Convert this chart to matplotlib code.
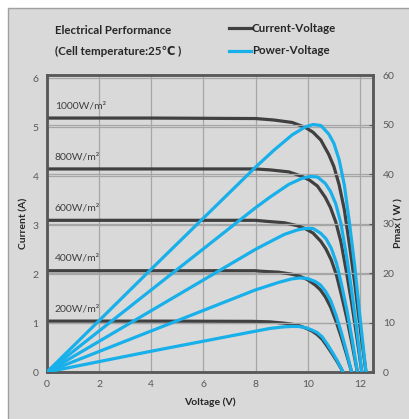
import matplotlib.pyplot as plt
from matplotlib.patches import Rectangle

plt.rcParams['font.family'] = ['Lato', 'DejaVu Sans']

# irradiance levels and their curves
levels = ['1000W/m²', '800W/m²', '600W/m²', '400W/m²', '200W/m²']

v_1000 = [0, 4, 8, 8.7, 9.4, 9.9, 10.2, 10.5, 10.8, 11.0, 11.2, 11.4, 11.6, 11.8, 12.0, 12.23]
i_1000 = [5.19, 5.19, 5.18, 5.15, 5.10, 5.00, 4.90, 4.74, 4.45, 4.20, 3.83, 3.32, 2.59, 1.81, 0.93, 0]
p_1000 = [0, 20.8, 41.4, 44.8, 47.9, 49.5, 50.0, 49.8, 48.1, 46.2, 42.9, 37.8, 30.0, 21.4, 11.2, 0]

v_800 = [0, 4, 8, 8.57, 9.27, 9.77, 10.07, 10.37, 10.67, 10.87, 11.07, 11.27, 11.47, 11.67, 11.87, 12.07]
i_800 = [4.15, 4.15, 4.15, 4.13, 4.09, 4.00, 3.92, 3.80, 3.57, 3.36, 3.07, 2.66, 2.08, 1.45, 0.75, 0]
p_800 = [0, 16.6, 33.2, 35.4, 37.9, 39.1, 39.5, 39.4, 38.1, 36.5, 34.0, 30.0, 23.9, 16.9, 8.9, 0]

v_600 = [0, 4, 8, 8.4, 9.1, 9.6, 9.9, 10.2, 10.5, 10.7, 10.9, 11.1, 11.3, 11.5, 11.7, 11.9]
i_600 = [3.10, 3.10, 3.10, 3.08, 3.05, 2.99, 2.93, 2.84, 2.67, 2.51, 2.29, 1.98, 1.55, 1.09, 0.56, 0]
p_600 = [0, 12.4, 24.8, 25.9, 27.8, 28.7, 29.0, 29.0, 28.0, 26.9, 25.0, 22.0, 17.5, 12.5, 6.6, 0]

v_400 = [0, 4, 8, 8.18, 8.88, 9.38, 9.68, 9.98, 10.28, 10.48, 10.68, 10.88, 11.08, 11.28, 11.48, 11.68]
i_400 = [2.07, 2.07, 2.07, 2.06, 2.04, 2.00, 1.96, 1.89, 1.78, 1.68, 1.53, 1.32, 1.04, 0.72, 0.37, 0]
p_400 = [0, 8.3, 16.6, 16.9, 18.1, 18.8, 19.0, 18.9, 18.3, 17.6, 16.3, 14.4, 11.5, 8.1, 4.2, 0]

v_200 = [0, 4, 7.85, 8.55, 9.05, 9.35, 9.65, 9.95, 10.15, 10.35, 10.55, 10.75, 10.95, 11.15, 11.35]
i_200 = [1.04, 1.04, 1.035, 1.025, 1.00, 0.98, 0.95, 0.89, 0.84, 0.77, 0.67, 0.52, 0.36, 0.19, 0]
p_200 = [0, 4.2, 8.1, 8.8, 9.1, 9.2, 9.2, 8.9, 8.5, 8.0, 7.1, 5.6, 3.9, 2.1, 0]

volts = [v_1000, v_800, v_600, v_400, v_200]
currents = [i_1000, i_800, i_600, i_400, i_200]
powers = [p_1000, p_800, p_600, p_400, p_200]

x_ticks = [0, 2, 4, 6, 8, 10, 12]
i_ticks = [0, 1, 2, 3, 4, 5, 6]
p_ticks = [0, 10, 20, 30, 40, 50, 60]

DARK = '#404040'
BLUE = '#18b0ea'
BG = '#d9d9d9'
GRID = '#a6a6a6'
TXT = '#595959'

fig = plt.figure(figsize=(4.10, 4.19), dpi=100)
fig.patch.set_facecolor('white')
# grey panel behind the chart
fig.patches.append(Rectangle((8 / 410, -0.01), 1.0, 1 - 8 / 419 + 0.01,
                             transform=fig.transFigure, facecolor=BG,
                             edgecolor='#a0a0a0', linewidth=1.0, zorder=-5))

ax = fig.add_axes([47 / 410, 47 / 419, 326 / 410, 297 / 419])
ax.set_facecolor(BG)
ax2 = ax.twinx()

for v, i in zip(volts, currents):
    ax.plot(v, i, color=DARK, lw=2.3, solid_capstyle='round', zorder=3)
for v, p in zip(volts, powers):
    ax2.plot(v, p, color=BLUE, lw=2.3, solid_capstyle='round', zorder=3)

for lab, i in zip(levels, currents):
    ax.text(0.3, i[0] + 0.25, lab, fontsize=7.5, color='#404040', va='center', ha='left')

ax.set_xlim(0, 12.5)
ax.set_ylim(0, 6.07)
ax2.set_ylim(0, 60)
ax.set_xticks(x_ticks)
ax.set_yticks(i_ticks)
ax2.set_yticks(p_ticks)

ax.grid(True, color=GRID, lw=0.9)
ax.set_axisbelow(True)
ax2.yaxis.grid(True, color=GRID, lw=0.9, zorder=0)
ax2.set_axisbelow(True)

for a in (ax, ax2):
    for s in a.spines.values():
        s.set_color('#595959')
        s.set_linewidth(1.8)
ax.tick_params(axis='both', length=0, labelsize=7.5, labelcolor=TXT, pad=6)
ax2.tick_params(axis='y', direction='in', length=3, color='#595959',
                labelsize=7.5, labelcolor=TXT, pad=7)

ax.set_xlabel('Voltage (V)', fontsize=7.5, fontweight='bold', color='#262626', labelpad=6)
ax.set_ylabel('Current (A)', fontsize=7.5, fontweight='bold', color='#262626', labelpad=3)
ax2.set_ylabel('Pmax ( W )', fontsize=7.5, fontweight='bold', color='#262626', labelpad=0)

fig.text(55 / 410, 1 - 31 / 419, 'Electrical Performance', fontsize=8.3,
         fontweight='bold', color='#262626', va='center')
fig.text(55 / 410, 1 - 51 / 419, '(Cell temperature:25℃ )', fontsize=8.3,
         fontweight='bold', color='#262626', va='center')

fig.lines.append(plt.Line2D([229 / 410, 251 / 410], [1 - 28 / 419] * 2,
                            transform=fig.transFigure, color=DARK, lw=2.3))
fig.lines.append(plt.Line2D([229 / 410, 251 / 410], [1 - 51 / 419] * 2,
                            transform=fig.transFigure, color=BLUE, lw=2.3))
fig.text(252 / 410, 1 - 28 / 419, 'Current-Voltage', fontsize=8.3,
         fontweight='bold', color='#262626', va='center')
fig.text(252 / 410, 1 - 51 / 419, 'Power-Voltage', fontsize=8.3,
         fontweight='bold', color='#262626', va='center')

fig.savefig('out.png', dpi=100, facecolor=fig.get_facecolor())
